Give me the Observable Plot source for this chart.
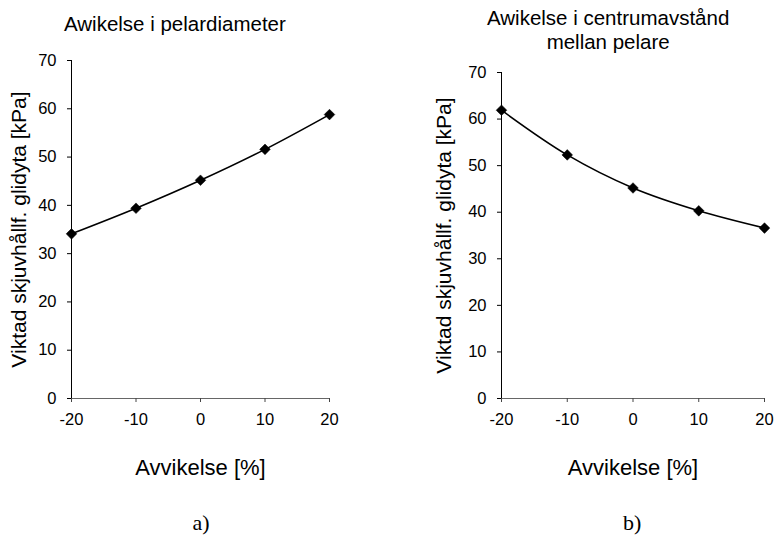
<!DOCTYPE html>
<html>
<head>
<meta charset="utf-8">
<script src="https://cdn.jsdelivr.net/npm/d3@7"></script>
<script src="https://cdn.jsdelivr.net/npm/@observablehq/plot@0.6"></script>
<style>
  html, body { margin: 0; padding: 0; background: #fff; }
  #wrap { position: relative; width: 776px; height: 544px; overflow: hidden; font-family: "Liberation Sans", Arial, sans-serif; color: #000; }
  .panel { position: absolute; top: 0; width: 388px; height: 544px; }
  .panel svg { position: absolute; left: 0; top: 0; }
  .title { position: absolute; font-size: 20.5px; line-height: 24px; text-align: center; white-space: nowrap; }
  .caption { position: absolute; font-family: "Liberation Serif", "Times New Roman", serif; font-size: 22px; line-height: 24px; white-space: nowrap; }
</style>
</head>
<body>
<div id="wrap"></div>
<script>
// Deviation in percent (shared x values for both panels)
const deviation = [-20, -10, 0, 10, 20];
// a) deviation in pillar diameter
const strengthDiameter = [34.1, 39.4, 45.2, 51.6, 58.8];
// b) deviation in centre spacing between pillars
const strengthSpacing = [61.9, 52.3, 45.2, 40.3, 36.6];

const xTicks = [-20, -10, 0, 10, 20];
const yTicks = [0, 10, 20, 30, 40, 50, 60, 70];

const panels = [
  {
    left: 0,
    title: ["Awikelse i pelardiameter"],
    titleCenter: 175, titleTop: 12,
    caption: "a)", captionCenter: 201,
    values: strengthDiameter,
    marginLeft: 71, marginRight: 59, marginTop: 60,
    yLabelOffset: 60
  },
  {
    left: 388,
    title: ["Awikelse i centrumavstånd", "mellan pelare"],
    titleCenter: 220, titleTop: 6,
    caption: "b)", captionCenter: 244,
    values: strengthSpacing,
    marginLeft: 113, marginRight: 12, marginTop: 72,
    yLabelOffset: 65
  }
];

const wrap = document.getElementById("wrap");

for (const p of panels) {
  const data = deviation.map((d, i) => ({x: d, y: p.values[i]}));

  const panel = document.createElement("div");
  panel.className = "panel";
  panel.style.left = p.left + "px";
  wrap.appendChild(panel);

  const chart = Plot.plot({
    width: 388,
    height: 544,
    marginLeft: p.marginLeft,
    marginRight: p.marginRight,
    marginTop: p.marginTop,
    marginBottom: 146,
    style: {fontFamily: "Liberation Sans, Arial, sans-serif", fontSize: "16px", color: "#000", background: "transparent", overflow: "visible"},
    x: {domain: [-20, 20]},
    y: {domain: [0, 70]},
    marks: [
      Plot.ruleY([0], {stroke: "#666", strokeWidth: 1}),
      Plot.ruleX([-20], {stroke: "#000", strokeWidth: 1}),
      Plot.axisX({
        ticks: xTicks, tickFormat: d => String(d), tickSize: 4, tickPadding: 11, stroke: "#444",
        label: "Avvikelse [%]", labelAnchor: "center", labelArrow: "none", labelOffset: 76
      }),
      Plot.axisY({
        ticks: yTicks, tickFormat: d => String(d), tickSize: 4, tickPadding: 11,
        label: "Viktad skjuvhållf. glidyta [kPa]", labelAnchor: "center", labelArrow: "none", labelOffset: p.yLabelOffset
      }),
      Plot.line(data, {x: "x", y: "y", curve: "catmull-rom", stroke: "#000", strokeWidth: 1.6}),
      Plot.dot(data, {x: "x", y: "y", symbol: "diamond2", r: 4.8, fill: "#000", stroke: "#000", strokeWidth: 0.5})
    ]
  });
  panel.appendChild(chart);

  // tick labels and axis titles at their own sizes
  chart.querySelectorAll("g[aria-label='x-axis tick label'], g[aria-label='y-axis tick label']").forEach(g => g.setAttribute("font-size", "16.5"));
  chart.querySelectorAll("g[aria-label='x-axis label']").forEach(g => g.setAttribute("font-size", "22"));
  chart.querySelectorAll("g[aria-label='y-axis label']").forEach(g => g.setAttribute("font-size", "21"));

  const title = document.createElement("div");
  title.className = "title";
  title.innerHTML = p.title.join("<br>");
  panel.appendChild(title);
  title.style.top = p.titleTop + "px";
  title.style.left = (p.titleCenter - title.offsetWidth / 2) + "px";

  const cap = document.createElement("div");
  cap.className = "caption";
  cap.textContent = p.caption;
  panel.appendChild(cap);
  cap.style.top = "511px";
  cap.style.left = (p.captionCenter - cap.offsetWidth / 2) + "px";
}
</script>
</body>
</html>
